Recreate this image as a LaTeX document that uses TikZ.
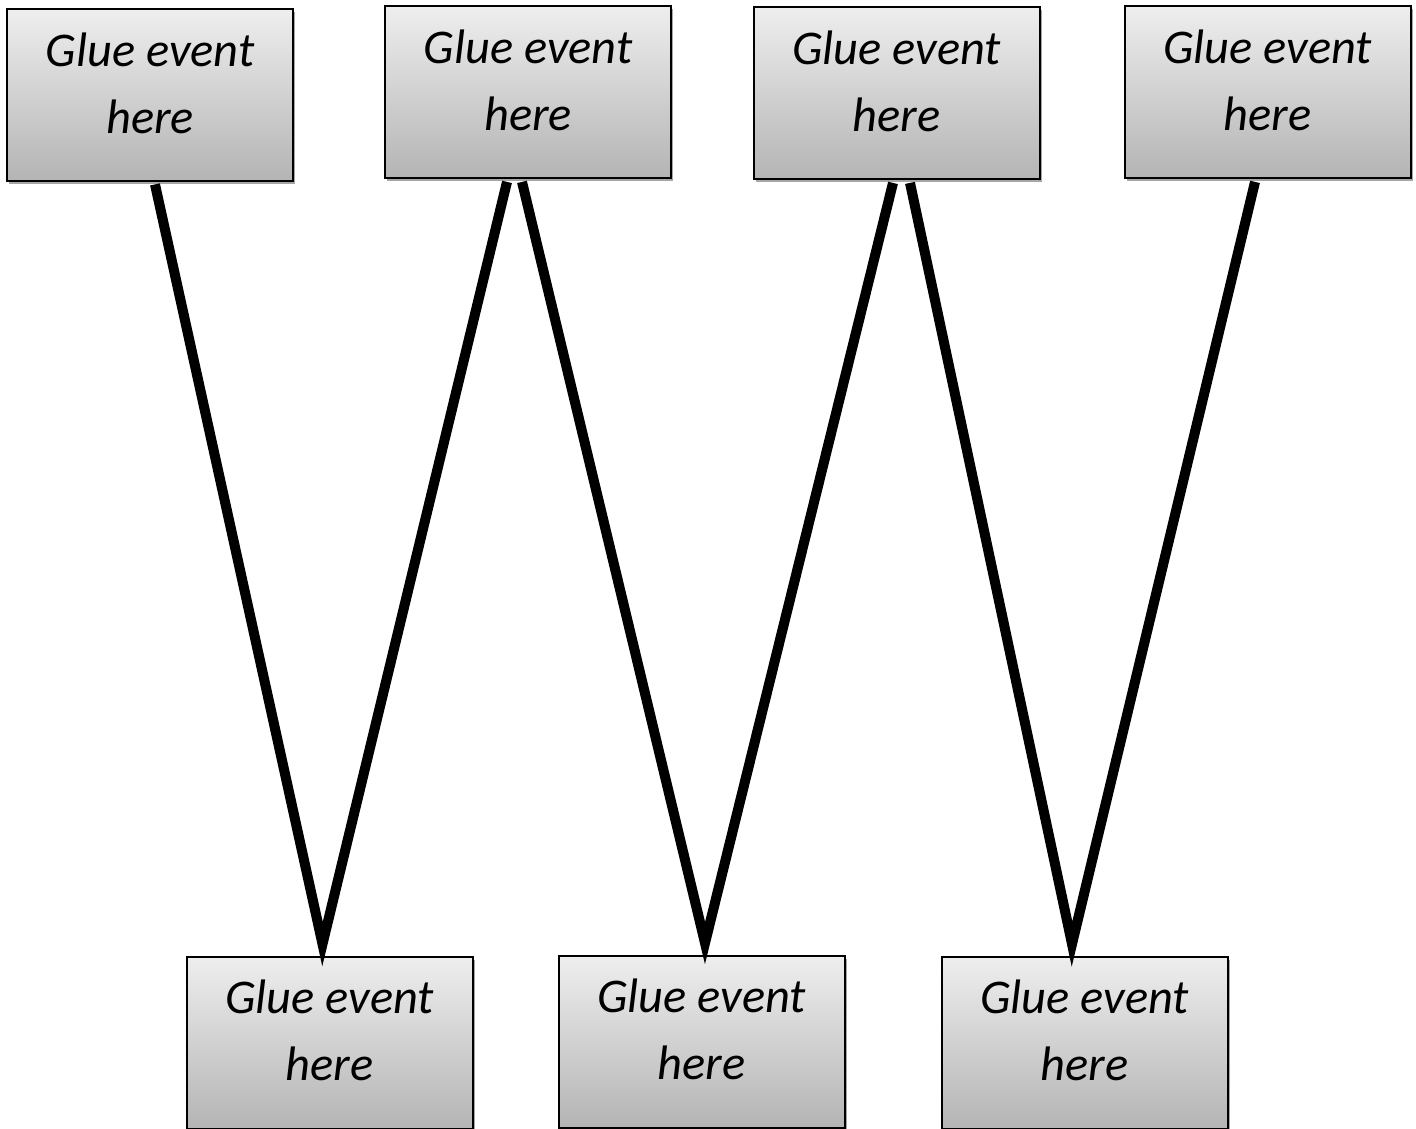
\documentclass[tikz,border=0pt]{standalone}
\usepackage{fontspec}
\setmainfont{Carlito}
\usetikzlibrary{shadows}
\definecolor{gtop}{RGB}{238,238,238}
\definecolor{gbot}{RGB}{180,180,180}
\tikzset{
  gbox/.style={draw=black, line width=1pt, minimum width=143pt, minimum height=86pt,
    top color=gtop, bottom color=gbot, inner sep=0pt,
    drop shadow={shadow xshift=1.2pt, shadow yshift=-1.5pt, opacity=0.35, fill=black}},
  lbl/.style={align=center, font=\fontsize{24.2pt}{33.5pt}\selectfont\itshape, inner sep=0pt},
  link/.style={line width=5pt, line join=miter, miter limit=10}
}
\begin{document}
\begin{tikzpicture}[x=0.5pt,y=-0.5pt]
\useasboundingbox (0,0) rectangle (1416,1128);
\clip (0,0) rectangle (1416,1128);
% top boxes
\node[gbox] (t1) at (150,95) {};
\node[gbox] (t2) at (528,92.5) {};
\node[gbox] (t3) at (896.5,93.5) {};
\node[gbox] (t4) at (1267.5,92.5) {};
% bottom boxes
\node[gbox] (b1) at (329.5,1043) {};
\node[gbox] (b2) at (701.5,1042) {};
\node[gbox] (b3) at (1084.5,1043) {};
% labels
\foreach \n in {t1,t2,t3,t4}{
  \node[lbl] (\n l) at ([yshift=6pt]\n.center) {Glue event\\here};
}
\foreach \n in {b1,b2,b3}{
  \node[lbl] (\n l) at ([yshift=6.5pt]\n.center) {Glue event\\here};
}
% connectors
\draw[link] ([xshift=2.5pt,yshift=-1.2pt]t1.south) -- ([xshift=-3.5pt,yshift=6pt]b1.north) -- ([xshift=-10.5pt,yshift=-1.2pt]t2.south);
\draw[link] ([xshift=-3pt,yshift=-1.2pt]t2.south) -- ([xshift=1.75pt,yshift=6pt]b2.north) -- ([xshift=-1.75pt,yshift=-1.2pt]t3.south);
\draw[link] ([xshift=6.75pt,yshift=-1.2pt]t3.south) -- ([xshift=-6.25pt,yshift=6pt]b3.north) -- ([xshift=-6.25pt,yshift=-1.2pt]t4.south);
\end{tikzpicture}
\end{document}
